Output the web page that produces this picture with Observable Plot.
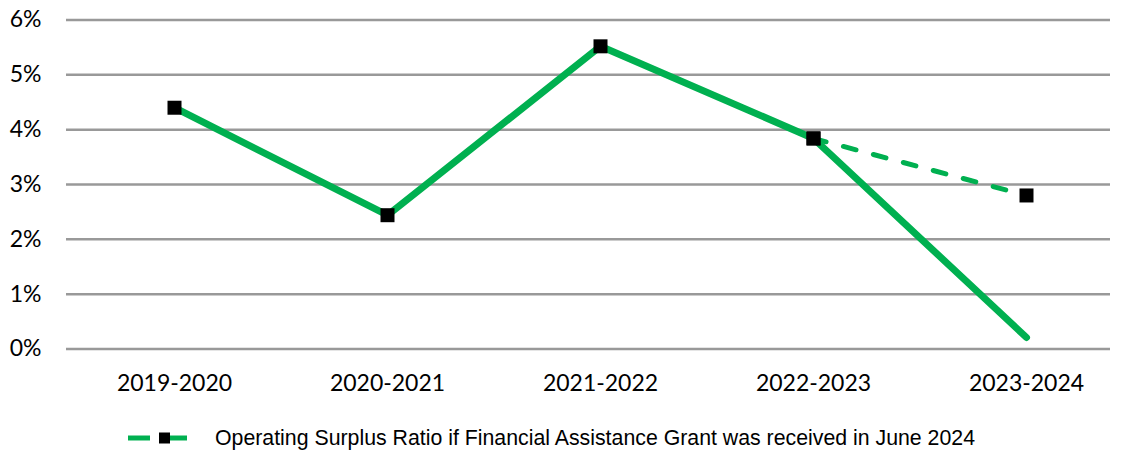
<!DOCTYPE html>
<html>
<head>
<meta charset="utf-8">
<script src="https://cdn.jsdelivr.net/npm/d3@7"></script>
<script src="https://cdn.jsdelivr.net/npm/@observablehq/plot@0.6"></script>
<style>
  body { margin: 0; background: #fff; }
  #chart svg { display: block; }
  #legend { display: flex; align-items: center; height: 66px; font-family: "Liberation Sans", Arial, sans-serif; font-size: 21.3px; color: #000; }
</style>
</head>
<body>
<div id="chart"></div>
<div id="legend"></div>
<script>
const years = ["2019-2020", "2020-2021", "2021-2022", "2022-2023", "2023-2024"];
const actual = [4.40, 2.44, 5.52, 3.84, 0.21];
const actualMarker = [true, true, true, true, false];
const ifGrant = [null, null, null, 3.84, 2.80];
const yTicks = [0, 1, 2, 3, 4, 5, 6];
const legendLabel = "Operating Surplus Ratio if Financial Assistance Grant was received in June 2024";

const green = "#00B050";
const rowsActual = years.map((x, i) => ({x, y: actual[i], m: actualMarker[i]}));
const rowsGrant = years.map((x, i) => ({x, y: ifGrant[i]})).filter(d => d.y != null);

const chart = Plot.plot({
  width: 1125,
  height: 405,
  marginLeft: 66,
  marginRight: 15,
  marginTop: 19.5,
  marginBottom: 56.5,
  style: {fontFamily: "Lato, 'Open Sans', sans-serif", fontSize: "23px", color: "#000", background: "#fff"},
  x: {type: "point", domain: years, range: [173, 1027], padding: 0},
  y: {domain: [0, 6]},
  marks: [
    Plot.ruleY(yTicks, {stroke: "#999", strokeWidth: 2.5}),
    Plot.axisY({ticks: yTicks, tickSize: 0, tickPadding: 25, tickFormat: d => d + "%", label: null}),
    Plot.axisX({tickSize: 0, tickPadding: 26, label: null}),
    Plot.line(rowsGrant, {x: "x", y: "y", stroke: green, strokeWidth: 5, strokeDasharray: "13,18", strokeLinecap: "round"}),
    Plot.line(rowsActual, {x: "x", y: "y", stroke: green, strokeWidth: 7, strokeLinecap: "round", strokeLinejoin: "round"}),
    Plot.dot(rowsActual.filter(d => d.m), {x: "x", y: "y", symbol: "square", r: 7.9, fill: "#000"}),
    Plot.dot(rowsGrant, {x: "x", y: "y", symbol: "square", r: 7.9, fill: "#000"})
  ]
});
document.getElementById("chart").appendChild(chart);

const legend = document.getElementById("legend");
legend.innerHTML =
  `<svg width="215" height="24" style="flex:none">
     <line x1="128" x2="150" y1="12" y2="12" stroke="${green}" stroke-width="5"/>
     <line x1="170" x2="187" y1="12" y2="12" stroke="${green}" stroke-width="5"/>
     <rect x="159" y="6.5" width="11" height="11" fill="#000"/>
   </svg><span></span>`;
legend.querySelector("span").textContent = legendLabel;
</script>
</body>
</html>
